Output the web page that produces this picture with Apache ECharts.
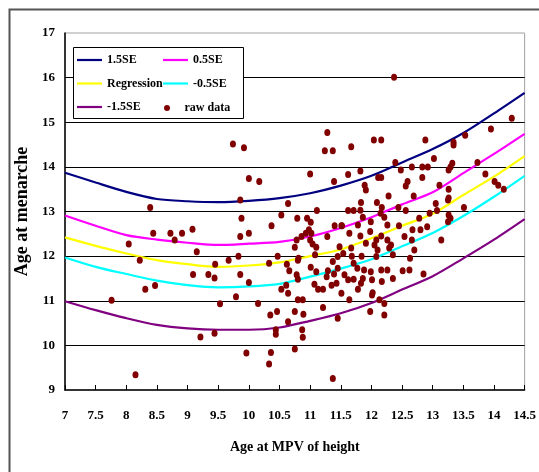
<!DOCTYPE html>
<html>
<head>
<meta charset="utf-8">
<style>
html,body{margin:0;padding:0;background:#fff;}
#chart{width:539px;height:472px;}
</style>
<script src="https://cdn.jsdelivr.net/npm/echarts@6/dist/echarts.min.js"></script>
</head>
<body>
<div id="chart"></div>
<script>
// ---- data ----
var xTicks = [7, 7.5, 8, 8.5, 9, 9.5, 10, 10.5, 11, 11.5, 12, 12.5, 13, 13.5, 14, 14.5];
var se15   = [13.87,13.65,13.44,13.28,13.23,13.21,13.24,13.30,13.41,13.58,13.80,14.10,14.40,14.76,15.20,15.66];
var se05   = [12.91,12.68,12.47,12.37,12.30,12.25,12.28,12.32,12.44,12.63,12.87,13.16,13.43,13.86,14.29,14.74];
var regr   = [12.42,12.23,12.06,11.91,11.82,11.76,11.79,11.86,12.00,12.15,12.40,12.68,12.95,13.37,13.78,14.24];
var seM05  = [11.97,11.76,11.60,11.45,11.35,11.30,11.32,11.38,11.54,11.72,11.93,12.22,12.52,12.90,13.33,13.80];
var seM15  = [10.99,10.79,10.61,10.46,10.38,10.35,10.35,10.40,10.55,10.72,10.95,11.25,11.55,11.95,12.37,12.83];

var rawData = [
[9.74,14.51],[9.92,14.43],[10.0,13.74],[9.86,13.26],[8.39,13.09],[9.88,12.85],[8.44,12.51],[8.72,12.51],[8.91,12.51],[9.08,12.60],
[8.79,12.36],[9.86,12.44],[10.0,12.51],[8.04,12.27],[9.15,12.10],[9.83,12.00],[9.67,11.91],[8.22,11.91],[9.45,11.82],[9.09,11.59],
[9.34,11.59],[9.44,11.51],[9.86,11.59],[10.0,11.41],[8.31,11.26],[8.47,11.34],[9.79,11.09],[7.76,11.01],[9.53,10.93],[9.21,10.19],
[9.44,10.27],[9.96,9.83],[8.15,9.34],
[11.28,14.77],[11.24,14.36],[11.37,14.36],[10.17,13.67],[11.00,13.84],[11.39,13.67],[10.64,13.18],[11.11,13.02],[10.53,12.92],[10.79,12.85],
[10.95,12.85],[11.01,12.76],[10.37,12.68],[11.40,12.68],[11.51,12.68],[10.98,12.59],[11.02,12.51],[10.93,12.51],[10.86,12.44],[10.78,12.36],
[11.28,12.44],[11.00,12.36],[11.04,12.27],[11.10,12.20],[10.75,12.20],[11.08,12.03],[10.47,12.00],[10.81,11.95],[11.45,11.99],
[11.67,14.45],[12.04,14.60],[12.16,14.60],[12.88,14.60],[12.39,14.10],[12.48,13.93],[12.66,14.00],[12.83,14.00],[12.92,14.00],[11.62,13.83],
[11.82,13.91],[12.11,13.76],[12.16,13.76],[12.83,13.76],[12.59,13.67],[12.56,13.57],[11.89,13.59],[11.91,13.48],[12.28,13.35],[11.83,13.20],
[12.69,13.35],[11.82,13.03],[12.09,13.20],[11.62,13.02],[11.71,13.02],[12.17,13.09],[12.44,13.09],[12.56,13.02],[12.15,12.96],[12.21,12.87],
[11.86,12.87],[11.99,12.77],[12.78,12.85],[12.95,12.96],[11.52,12.68],[11.78,12.70],[12.26,12.70],[12.45,12.68],[12.80,12.59],[12.91,12.66],
[11.64,12.51],[11.82,12.45],[11.98,12.55],[12.08,12.36],[12.16,12.45],[12.26,12.36],[12.54,12.44],[12.67,12.59],[11.48,12.21],[11.67,12.18],
[11.91,12.29],[12.05,12.25],[12.10,12.14],[12.29,12.18],[12.32,12.25],[12.70,12.14],[11.54,12.06],[11.68,12.00],[11.84,12.00],[12.35,12.03],
[12.63,11.95],
[10.33,11.84],[10.62,11.82],[10.80,11.91],[10.66,11.67],[10.78,11.58],[10.80,11.48],[11.01,11.75],[11.10,11.65],[11.29,11.67],[11.27,11.54],
[11.37,11.88],[11.71,11.84],[11.39,11.60],[11.45,11.73],[11.56,11.58],[11.62,11.47],[11.43,11.39],[11.35,11.35],[11.71,11.48],[11.77,11.73],
[11.88,11.69],[11.86,11.50],[11.83,11.39],[11.78,11.26],[11.99,11.65],[12.01,11.47],[12.08,11.99],[12.16,11.69],[12.17,11.43],[12.26,11.69],
[12.35,11.50],[12.51,11.67],[12.62,11.69],[12.85,11.60],[10.53,11.26],[10.64,11.17],[10.61,11.35],[11.07,11.37],[11.13,11.26],[11.21,11.26],
[11.51,11.17],[10.15,10.94],[10.80,11.02],[10.88,11.02],[11.64,11.02],[12.01,11.13],[12.02,11.18],[12.13,11.02],[12.21,10.94],[10.35,10.68],
[10.46,10.76],[10.75,10.76],[10.89,10.70],[11.21,10.85],[11.98,10.76],[12.21,10.68],[11.45,10.61],[10.64,10.53],[10.44,10.35],[10.44,10.25],
[10.87,10.35],[10.88,10.18],[10.36,9.84],[10.33,9.58],[10.75,9.92],[11.37,9.26],
[12.37,16.01],[13.95,14.85],[14.29,15.09],[13.53,14.71],[13.34,14.55],[13.34,14.49],[13.02,14.19],[13.26,13.93],[13.32,14.08],[13.29,14.00],
[13.73,14.10],[13.86,13.84],[14.01,13.67],[14.07,13.59],[14.16,13.50],[13.26,13.50],[13.11,13.59],[13.26,13.30],[13.05,13.18],[13.25,13.26],
[13.07,13.02],[13.51,13.09],[13.26,12.92],[13.29,12.85],[13.25,12.77],[13.14,12.36],[12.66,12.36]
];

function pairs(ys){ return xTicks.map(function(x,i){ return [x, ys[i]]; }); }

var FONT = '"Liberation Serif","Times New Roman",serif';
var LINE_ICON = 'path://M0,0L25,0L25,2.2L0,2.2Z';

var chart = echarts.init(document.getElementById('chart'), null, {renderer:'canvas'});

function lineSeries(name, ys, color){
  return {
    name: name, type: 'line', data: pairs(ys), smooth: 0.3,
    symbol: 'none', showSymbol: false,
    lineStyle: {color: color, width: 2.2},
    itemStyle: {color: color},
    emphasis: {disabled: true}, animation: false
  };
}

var legendText = {fontFamily: FONT, fontWeight: 'bold', fontSize: 12, color: '#000'};
function li(name){ return {name: name, icon: LINE_ICON}; }

chart.setOption({
  animation: false,
  backgroundColor: '#fff',
  graphic: [
    {type: 'rect', left: 7, top: 7, shape: {width: 600, height: 600},
     style: {fill: 'none', stroke: '#555', lineWidth: 2}, z: -10},
    {type: 'rect', left: 73, top: 47, shape: {width: 170, height: 71},
     style: {fill: '#fff', stroke: '#000', lineWidth: 1}, z: 100}
  ],
  grid: {left: 65, top: 33, right: 11, bottom: 82, show: true, borderColor: '#a0a0a0', borderWidth: 1, backgroundColor: 'transparent'},
  legend: [
    {data: [li('1.5SE'), li('Regression'), li('-1.5SE')], orient: 'vertical', left: 77, top: 54, padding: 0,
     itemWidth: 25, itemHeight: 14, itemGap: 11.5, textStyle: legendText, z: 101, selectedMode: false},
    {data: [li('0.5SE'), li('-0.5SE')], orient: 'vertical', left: 163, top: 54, padding: 0,
     itemWidth: 25, itemHeight: 14, itemGap: 11.5, textStyle: legendText, z: 101, selectedMode: false},
    {data: [{name: 'raw data', icon: 'circle'}], orient: 'vertical', left: 164, top: 102, padding: 0,
     itemWidth: 25, itemHeight: 6, textStyle: legendText, z: 101, selectedMode: false}
  ],
  xAxis: {
    type: 'value', min: 7, max: 14.5, interval: 0.5,
    name: 'Age at MPV of height', nameLocation: 'middle', nameGap: 50,
    nameTextStyle: {fontFamily: FONT, fontWeight: 'bold', fontSize: 14, color: '#000'},
    axisLine: {show: true, lineStyle: {color: '#000', width: 1.5}},
    axisTick: {show: true, inside: true, length: 5, lineStyle: {color: '#000'}},
    axisLabel: {fontFamily: FONT, fontWeight: 'bold', fontSize: 13, color: '#000', margin: 19},
    splitLine: {show: false}
  },
  yAxis: {
    type: 'value', min: 9, max: 17, interval: 1,
    name: 'Age at menarche', nameLocation: 'middle', nameGap: 27, nameRotate: 90,
    nameTextStyle: {fontFamily: FONT, fontWeight: 'bold', fontSize: 18, color: '#000'},
    axisLine: {show: true, lineStyle: {color: '#000', width: 1.5}},
    axisTick: {show: false},
    axisLabel: {fontFamily: FONT, fontWeight: 'bold', fontSize: 13, color: '#000', margin: 10},
    splitLine: {show: true, showMinLine: false, showMaxLine: false, lineStyle: {color: '#000', width: 1}}
  },
  series: [
    lineSeries('1.5SE', se15, '#000080'),
    lineSeries('0.5SE', se05, '#FF00FF'),
    lineSeries('Regression', regr, '#FFFF00'),
    lineSeries('-0.5SE', seM05, '#00FFFF'),
    lineSeries('-1.5SE', seM15, '#800080'),
    {name: 'raw data', type: 'scatter', data: rawData, symbol: 'circle', symbolSize: [6, 7],
     itemStyle: {color: '#800000', opacity: 1}, emphasis: {disabled: true}, animation: false, z: 5}
  ]
});
</script>
</body>
</html>
